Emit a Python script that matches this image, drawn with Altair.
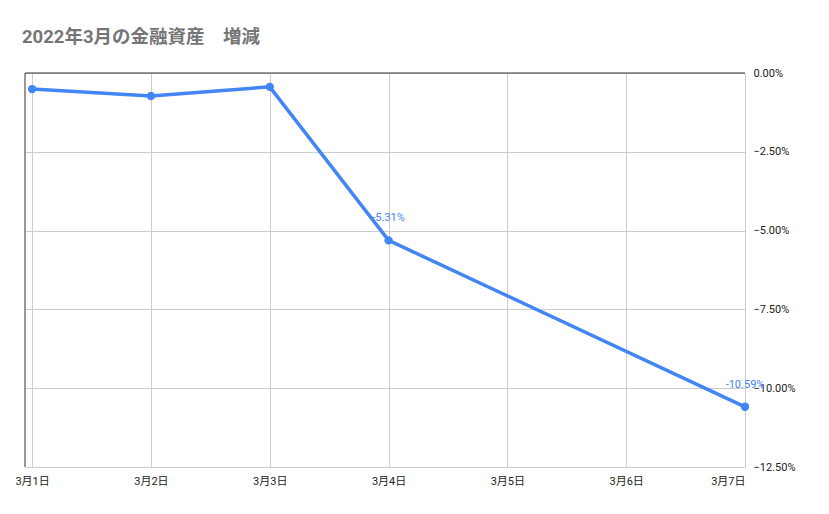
import altair as alt
import pandas as pd

days = [1, 2, 3, 4, 7]
values = [-0.0051, -0.0073, -0.0044, -0.0531, -0.1059]
label_text = ["", "", "", "-5.31%", "-10.59%"]
y_ticks = [0, -0.025, -0.05, -0.075, -0.1, -0.125]
x_ticks = [1, 2, 3, 4, 5, 6, 7]

df = pd.DataFrame({"day": days, "value": values, "label": label_text})

FONT = "Roboto"
BLUE = "#4285F4"

x = alt.X("day:Q", scale=alt.Scale(domain=[0.94, 7], nice=False, zero=False),
          axis=alt.Axis(values=x_ticks, labelExpr="'3月' + datum.value + '日'",
                        title=None, grid=True, gridColor="#cccccc", domain=False,
                        ticks=False, labelColor="#222222", labelFontSize=11,
                        labelFont="Roboto, Noto Sans CJK JP", labelPadding=8))
y = alt.Y("value:Q", scale=alt.Scale(domain=[-0.125, 0], nice=False),
          axis=alt.Axis(orient="right", values=y_ticks, format=".2%", title=None,
                        grid=True, gridColor="#cccccc", domain=False, ticks=False,
                        labelColor="#222222", labelFontSize=11, labelFont=FONT,
                        labelPadding=8))

line = alt.Chart(df).mark_line(color=BLUE, strokeWidth=3.5).encode(x=x, y=y)
pts = alt.Chart(df).mark_circle(color=BLUE, size=70, opacity=1).encode(x=x, y=y)
labels = alt.Chart(df).mark_text(color=BLUE, fontSize=11, font=FONT, dy=-22).encode(
    x=x, y=y, text="label:N")

base_df = pd.DataFrame({"z": [0]})
top_rule = alt.Chart(base_df).mark_rule(color="#333333", strokeWidth=1).encode(y=alt.Y("z:Q"))
left_rule = alt.Chart(pd.DataFrame({"d": [0.94]})).mark_rule(color="#333333", strokeWidth=1).encode(
    x=alt.X("d:Q"))

chart = alt.layer(top_rule, left_rule, line, pts, labels).properties(
    width=720, height=394,
    autosize=alt.AutoSizeParams(type="none"),
    padding={"left": 17, "top": 65, "right": 76, "bottom": 39},
    title=alt.TitleParams("2022年3月の金融資産　増減", anchor="start", fontSize=18.5,
                          font="Roboto, Noto Sans CJK JP", fontWeight="bold", color="#757575",
                          dx=7, offset=26, dy=14),
).configure_view(stroke=None)

chart.save("out.html", embed_options={"renderer": "svg", "actions": False})
